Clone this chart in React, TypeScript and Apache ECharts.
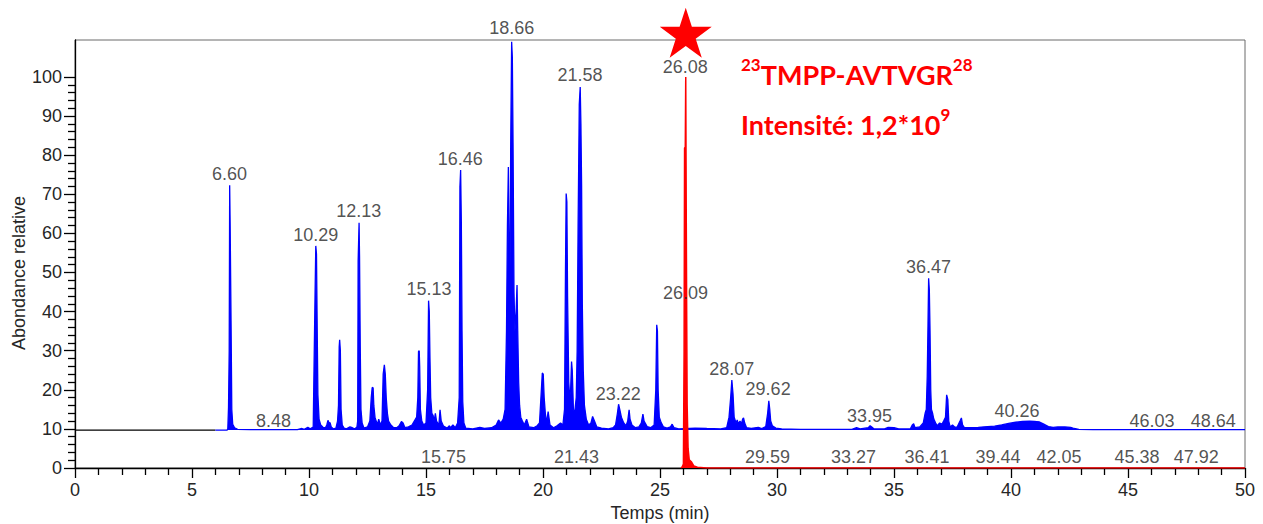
import React, { useEffect, useRef } from "react";
import * as echarts from "echarts";

// Blue chromatogram (total ion current, offset baseline ~10) : [time (min), relative abundance]
const blueTrace: [number, number][] = [
  [6.0, 9.7], [6.5, 9.7], [6.53, 10], [6.56, 15.4], [6.59, 30], [6.61, 72.3], [6.63, 62.4], [6.67, 36.6], [6.7, 15], [6.74, 11.2], [6.82, 10.3], [6.95, 9.9],
  [7.5, 9.8], [8.5, 9.8], [9.5, 9.8], [9.7, 10.1], [9.8, 9.9], [9.95, 10.4], [10.05, 10.0],
  [10.18, 10.5], [10.22, 28], [10.26, 45], [10.29, 56.8], [10.32, 54.7], [10.35, 35.8], [10.38, 18.7], [10.43, 12.5], [10.5, 11], [10.6, 10.4], [10.7, 10.3],
  [10.76, 11], [10.81, 12.2], [10.86, 11.5], [10.9, 11.6], [10.95, 10.5], [11.05, 10.0], [11.15, 10.2],
  [11.22, 12], [11.26, 16], [11.29, 31], [11.31, 32.8], [11.34, 30], [11.37, 15], [11.42, 11], [11.5, 10.2],
  [11.6, 10.0], [11.75, 10.5], [11.85, 10.3], [11.95, 10.0], [12.05, 10.5],
  [12.08, 12], [12.1, 53], [12.14, 62.7], [12.16, 54], [12.19, 31], [12.22, 15], [12.27, 11.5], [12.35, 10.2],
  [12.5, 10.5], [12.6, 12], [12.66, 18], [12.7, 20.6], [12.74, 20.5], [12.77, 16], [12.82, 13], [12.87, 12], [12.93, 11.2], [12.98, 12.5], [13.05, 11],
  [13.12, 12], [13.17, 24], [13.22, 26.4], [13.26, 24], [13.3, 18], [13.35, 14], [13.4, 12], [13.5, 11], [13.6, 10.4], [13.75, 10.3], [13.85, 10.8],
  [13.95, 11.9], [14.02, 11.5], [14.1, 10.3], [14.25, 10.5], [14.4, 11], [14.5, 12], [14.6, 13], [14.65, 18], [14.68, 29.8], [14.71, 30], [14.73, 26],
  [14.76, 15], [14.82, 12], [14.9, 11], [15.0, 11.5], [15.07, 20], [15.11, 42.8], [15.14, 40], [15.17, 28], [15.2, 18], [15.25, 14], [15.3, 13.5],
  [15.35, 12], [15.4, 14], [15.45, 12], [15.55, 11], [15.6, 14.9], [15.65, 12], [15.75, 10.7], [15.9, 10.2], [16.0, 10.8], [16.05, 10.3], [16.15, 11],
  [16.25, 10.3], [16.35, 11.5], [16.42, 18], [16.45, 72], [16.48, 76.2], [16.51, 63], [16.54, 35], [16.57, 17], [16.62, 11.5], [16.7, 10.2],
  [17.0, 10.0], [17.3, 10.4], [17.5, 10.1], [17.8, 10.3], [18.0, 11], [18.1, 12.3], [18.2, 11.5], [18.3, 12.5], [18.38, 15], [18.44, 35], [18.48, 62],
  [18.52, 77], [18.55, 55], [18.58, 40], [18.62, 83], [18.66, 109], [18.69, 105], [18.72, 82.8], [18.76, 45], [18.8, 35], [18.85, 40], [18.89, 46.8],
  [18.92, 35], [18.96, 22], [19.0, 16], [19.05, 13], [19.12, 12], [19.2, 11], [19.3, 12.5], [19.4, 10.5], [19.6, 10.3], [19.75, 10.8], [19.85, 11.5],
  [19.93, 20], [19.97, 24.3], [20.01, 24], [20.05, 18], [20.1, 14], [20.15, 11.5], [20.22, 14.4], [20.3, 11], [20.45, 10.3], [20.6, 10.8], [20.75, 11.5],
  [20.85, 11], [20.92, 15], [20.96, 50], [20.99, 70.2], [21.02, 68], [21.05, 44], [21.1, 22], [21.14, 18], [21.18, 20], [21.22, 27.2], [21.25, 25],
  [21.3, 15], [21.35, 14], [21.42, 18], [21.46, 30], [21.5, 62], [21.55, 93], [21.59, 97.4], [21.62, 88], [21.65, 72], [21.68, 42], [21.72, 25],
  [21.77, 16], [21.85, 12.5], [21.95, 11], [22.05, 11.5], [22.12, 13.2], [22.2, 12], [22.3, 10.5], [22.5, 10.2], [22.8, 10.0], [23.0, 10.3], [23.1, 11],
  [23.18, 14], [23.23, 16.3], [23.28, 15], [23.35, 13], [23.45, 11.5], [23.55, 10.8], [23.62, 12], [23.68, 14.9], [23.72, 12.5], [23.8, 11], [23.95, 10.3],
  [24.1, 10.5], [24.2, 11.5], [24.27, 13.8], [24.32, 12], [24.45, 10.6], [24.6, 10.3], [24.75, 11], [24.82, 20], [24.86, 36.6], [24.89, 35], [24.92, 20],
  [24.97, 13], [25.05, 11.6], [25.15, 10.5], [25.3, 10.2], [25.45, 10.5], [25.52, 11.2], [25.6, 10.3], [25.8, 10.0],
  [26.5, 10.2], [27.0, 10.1], [27.6, 10.0], [27.85, 10.3], [27.95, 13], [28.02, 18], [28.07, 22.5], [28.12, 19], [28.17, 13], [28.25, 11.5], [28.3, 12.3],
  [28.35, 11.3], [28.42, 12], [28.48, 11.3], [28.53, 12.5], [28.57, 12.8], [28.62, 11.5], [28.7, 10.3], [28.9, 10.1], [29.2, 10.4], [29.35, 10.1],
  [29.52, 10.6], [29.6, 14], [29.65, 17.2], [29.69, 15], [29.73, 12], [29.8, 10.8], [29.95, 10.2], [30.2, 10.0],
  [31.0, 9.9], [32.0, 9.9], [33.2, 9.9], [33.4, 10.3], [33.55, 10.0], [33.9, 10.3], [33.98, 10.8], [34.05, 10.5], [34.15, 10.0], [34.6, 10.0], [34.75, 10.4],
  [35.0, 10.3], [35.2, 10.0], [35.7, 10.0], [35.78, 11], [35.84, 11.3], [35.9, 10.3], [36.1, 10.5], [36.25, 11.5], [36.33, 14], [36.38, 15], [36.42, 23.4],
  [36.45, 35.4], [36.48, 48.5], [36.51, 45.5], [36.54, 35], [36.57, 20], [36.6, 15], [36.65, 14], [36.7, 12.5], [36.78, 11.5], [36.85, 10.8], [36.95, 11.5],
  [37.05, 11.2], [37.12, 12], [37.2, 13], [37.25, 18.7], [37.3, 17.5], [37.34, 12], [37.4, 10.5], [37.5, 11], [37.6, 10.4], [37.7, 10.5], [37.82, 12],
  [37.88, 12.8], [37.93, 11], [38.0, 10.4], [38.2, 10.3], [38.6, 10.4], [39.0, 10.6], [39.3, 10.7], [39.6, 11.0], [39.9, 11.4], [40.2, 11.7], [40.5, 11.9],
  [40.8, 12.0], [41.0, 11.9], [41.2, 11.8], [41.4, 11.2], [41.6, 10.6], [41.8, 10.4], [42.0, 10.5], [42.3, 10.5], [42.55, 10.4], [42.7, 10.1], [42.9, 9.9],
  [43.5, 9.8], [50.0, 9.8],
];

// Red chromatogram (extracted ion, baseline 0)
const redTrace: [number, number][] = [
  [25.9, 0], [25.95, 0.3], [26.0, 1], [26.03, 30], [26.05, 81.8], [26.08, 82], [26.1, 100], [26.12, 67.2], [26.14, 40], [26.16, 16.2], [26.2, 5],
  [26.25, 2.1], [26.35, 1.5], [26.45, 0.5], [26.6, 0.2], [27.0, 0], [50.0, 0],
];

// Black baseline of the upper trace before the signal starts
const baselineTrace: [number, number][] = [[0, 9.7], [6.0, 9.7]];

// Peak annotations (retention times) and their label heights
const blueLabels = ["6.60", "8.48", "10.29", "12.13", "15.13", "16.46", "18.66", "21.58", "23.22", "26.09", "28.07", "29.62", "33.95", "36.47", "40.26", "46.03", "48.64"];
const blueLabelY = [75.1, 12.1, 59.5, 65.7, 45.7, 79.0, 112.4, 100.4, 18.9, 44.8, 25.3, 20.2, 13.4, 51.5, 14.5, 12.1, 12.1];
const redLabels = ["26.08", "15.75", "21.43", "29.59", "33.27", "36.41", "39.44", "42.05", "45.38", "47.92"];
const redLabelY = [102.6, 2.7, 2.7, 2.7, 2.7, 2.7, 2.7, 2.7, 2.7, 2.7];

// Star marker position above the target peak
const starPoint: [number, number] = [26.1, 111.3];

const yMajorTicks = [0, 10, 20, 30, 40, 50, 60, 70, 80, 90, 100];
const yMinorTicks = [2, 4, 6, 8, 12, 14, 16, 18, 22, 24, 26, 28, 32, 34, 36, 38, 42, 44, 46, 48, 52, 54, 56, 58, 62, 64, 66, 68, 72, 74, 76, 78, 82, 84, 86, 88, 92, 94, 96, 98];

const FONT = "'Liberation Sans', Arial, sans-serif";
const STAR = "path://M0,-100L22.45,-30.9L95.1,-30.9L36.33,11.8L58.78,80.9L0,38.2L-58.78,80.9L-36.33,11.8L-95.1,-30.9L-22.45,-30.9Z";

const richTitle = {
  m: { fontFamily: "Lato", fontWeight: "bold", fontSize: 27, color: "#ff0000", lineHeight: 32, verticalAlign: "bottom" },
  s: { fontFamily: "Lato", fontWeight: "bold", fontSize: 17, color: "#ff0000", lineHeight: 17, verticalAlign: "top" },
};

export default function App() {
  const ref = useRef<HTMLDivElement>(null);
  useEffect(() => {
    if (!ref.current) return;
    const chart = echarts.init(ref.current, null, { renderer: "svg" });
    const labelStyle = { show: true, position: "inside", fontFamily: FONT, fontSize: 18, color: "#262626", formatter: (p: any) => p.name };
    chart.setOption({
      animation: false,
      backgroundColor: "#ffffff",
      grid: { left: 75, right: 18, top: 40, bottom: 56, show: true, borderColor: "#6a6a6a", borderWidth: 1, containLabel: false, outerBoundsMode: "none" },
      title: [
        { text: "{s|23}{m|TMPP-AVTVGR}{s|28}", left: 741, top: 56, padding: 0, textStyle: { rich: richTitle } },
        { text: "{m|Intensité: 1,2*10}{s|9}", left: 741, top: 106, padding: 0, textStyle: { rich: richTitle } },
      ],
      xAxis: {
        type: "value", min: 0, max: 50, interval: 5,
        name: "Temps (min)", nameLocation: "middle", nameGap: 36, nameMoveOverlap: false,
        nameTextStyle: { fontFamily: FONT, fontSize: 18, color: "#262626" },
        axisLine: { show: true, onZero: false, lineStyle: { color: "#000", width: 1.3 } },
        axisTick: { show: true, length: 10, lineStyle: { color: "#000", width: 1.3 } },
        minorTick: { show: true, splitNumber: 5, length: 7, lineStyle: { color: "#000", width: 1.3 } },
        axisLabel: { fontFamily: FONT, fontSize: 18, color: "#262626", margin: 13 },
        splitLine: { show: false },
      },
      yAxis: [
        {
          type: "value", min: 0, max: 109.45,
          name: "Abondance relative", nameLocation: "middle", nameGap: 47, nameMoveOverlap: false,
          nameTextStyle: { fontFamily: FONT, fontSize: 18, color: "#262626", padding: [0, 38, 0, 0] },
          axisLine: { show: true, onZero: false, lineStyle: { color: "#000", width: 1.3 } },
          axisTick: { show: true, length: 11, customValues: yMajorTicks, lineStyle: { color: "#000", width: 1.3 } },
          axisLabel: { fontFamily: FONT, fontSize: 18, color: "#262626", margin: 13, customValues: yMajorTicks },
          splitLine: { show: false },
        },
        {
          type: "value", min: 0, max: 109.45, position: "left",
          axisLine: { show: false },
          axisTick: { show: true, length: 7, customValues: yMinorTicks, lineStyle: { color: "#000", width: 1.3 } },
          axisLabel: { show: false },
          splitLine: { show: false },
        },
      ],
      series: [
        {
          type: "line", data: baselineTrace, showSymbol: false, symbol: "none",
          lineStyle: { color: "#000", width: 1.3 }, z: 1,
        },
        {
          type: "line", data: blueTrace, showSymbol: false, symbol: "none",
          lineStyle: { color: "#0000ff", width: 1.3 },
          areaStyle: { color: "#0000ff", opacity: 1, origin: 9.7 }, z: 2,
        },
        {
          type: "line", data: redTrace, showSymbol: false, symbol: "none",
          lineStyle: { color: "#ff0000", width: 1.5 },
          areaStyle: { color: "#ff0000", opacity: 1, origin: "start" }, z: 3,
        },
        {
          type: "scatter", symbolSize: 0, clip: false, z: 5,
          data: blueLabels.map((t, i) => ({ name: t, value: [parseFloat(t), blueLabelY[i]] })),
          label: labelStyle,
        },
        {
          type: "scatter", symbolSize: 0, clip: false, z: 5,
          data: redLabels.map((t, i) => ({ name: t, value: [parseFloat(t), redLabelY[i]] })),
          label: labelStyle,
        },
        {
          type: "scatter", symbol: STAR, symbolSize: [52, 50], clip: false, z: 6,
          itemStyle: { color: "#ff0000", opacity: 1 },
          data: [starPoint],
        },
      ],
    });
    return () => chart.dispose();
  }, []);
  return <div ref={ref} style={{ position: "absolute", left: 0, top: 0, width: 1263, height: 524 }} />;
}
